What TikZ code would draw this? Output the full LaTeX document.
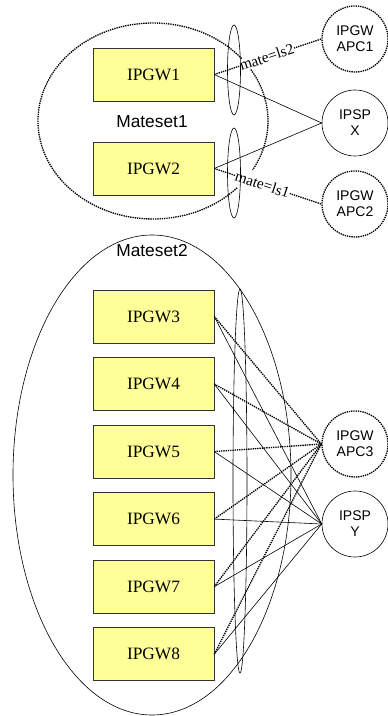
\documentclass[tikz,border=0pt]{standalone}
\usepackage{fontspec}
\setmainfont{Liberation Serif}
\setsansfont{Liberation Sans}
\usetikzlibrary{positioning}
\definecolor{gwyellow}{HTML}{FFFF99}
\definecolor{gwedge}{HTML}{333333}
\tikzset{
  gwbox/.style={draw=gwedge, fill=gwyellow, minimum width=90.75pt,
                minimum height=39.75pt, inner sep=0pt,
                font=\fontsize{13}{15}\selectfont},
  pnode/.style={draw, circle, minimum size=49.5pt, inner sep=0pt, align=center,
                line width=0.45pt, font=\sffamily\fontsize{10.5}{12}\selectfont},
  apcnode/.style={pnode, dash pattern=on 1pt off 0.7pt, line width=1pt},
  spline/.style={line width=0.45pt},
  mline/.style={dash pattern=on 1pt off 0.7pt, line width=1pt},
  matelbl/.style={sloped, fill=white, inner sep=0.3pt,
                  font=\fontsize{11.5}{12}\selectfont},
  setlbl/.style={font=\sffamily\fontsize{13}{15}\selectfont},
}
\begin{document}
\begin{tikzpicture}[x=0.75pt, y=-0.75pt]
  \useasboundingbox (0,0) rectangle (387,716);
  % the two mate sets
  \draw[mline] (153,121) ++(43:115 and 98) arc (43:390:115 and 98);
  \draw[spline] (152,475) ellipse [x radius=139, y radius=240];
  \node[setlbl] (ms1) at (152,122) {Mateset1};
  \node[setlbl] (ms2) at (152,251) {Mateset2};

  \node[gwbox] (g1) at (153.5,74.5) {IPGW1};
  \node[gwbox] (g2) at (153.5,168.5) {IPGW2};
  \node[gwbox] (g3) at (153.5,316.5) {IPGW3};
  \node[gwbox, below=10.5pt of g3] (g4) {IPGW4};
  \node[gwbox, below=10.5pt of g4] (g5) {IPGW5};
  \node[gwbox, below=10.5pt of g5] (g6) {IPGW6};
  \node[gwbox, below=10.5pt of g6] (g7) {IPGW7};
  \node[gwbox, below=10.5pt of g7] (g8) {IPGW8};

  \node[apcnode] (apc1) at (355,39) {IPGW\\APC1};
  \node[pnode] (spx) at (355,123) {IPSP\\X};
  \node[apcnode] (apc2) at (355,204) {IPGW\\APC2};
  \node[apcnode] (apc3) at (355,444) {IPGW\\APC3};
  \node[pnode] (spy) at (355,524) {IPSP\\Y};

  \draw[mline] (g1.east) -- node[matelbl, pos=0.49] {mate=ls2} (apc1.west);
  \draw[spline] (g1.east) -- (spx.west);
  \draw[spline] (g2.east) -- (spx.west);
  \draw[mline] (g2.east) -- node[matelbl, pos=0.45] {mate=ls1} (apc2.west);
  \foreach \i in {3,...,8} {
    \draw[mline] (g\i.east) -- (apc3.west);
    \draw[spline] (g\i.east) -- (spy.west);
  }

  % links grouped per set
  \draw[spline] (234,70) ellipse [x radius=6.5, y radius=45];
  \draw[spline] (234,173) ellipse [x radius=6.5, y radius=45];
  \draw[spline] (240,481) ellipse [x radius=7, y radius=192];
\end{tikzpicture}
\end{document}
